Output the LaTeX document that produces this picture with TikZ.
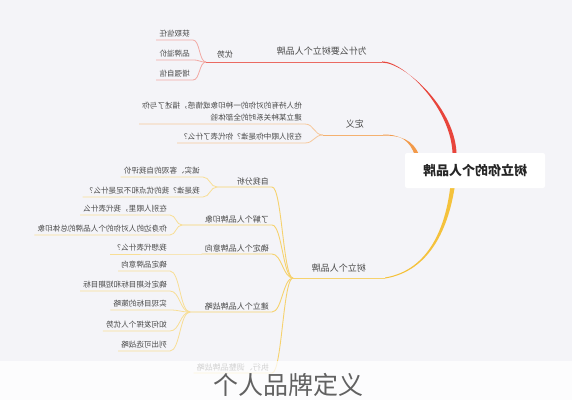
\documentclass[tikz,border=0pt]{standalone}
\usepackage{fontspec}
\usepackage{graphicx}
\setmainfont{Noto Sans CJK SC}
\newcommand{\mirtxt}[1]{\reflectbox{#1}}
\definecolor{bgc}{HTML}{F4F4F8}
\definecolor{txtc}{HTML}{4A4A4A}
\definecolor{redmain}{HTML}{E8453C}
\definecolor{redmid}{HTML}{EA6A62}
\definecolor{redleaf}{HTML}{F2A9A4}
\definecolor{orgmain}{HTML}{F29A4A}
\definecolor{orgmid}{HTML}{F4B170}
\definecolor{orgleaf}{HTML}{F6C79A}
\definecolor{ylwmain}{HTML}{F4C23C}
\definecolor{ylwmid}{HTML}{F6D26E}
\definecolor{ylwleaf}{HTML}{F8DE95}
\begin{document}
\begin{tikzpicture}[x=1pt,y=-1pt,
  lvone/.style={font=\fontsize{9}{11}\selectfont, text=txtc, anchor=south east, inner xsep=2pt, inner ysep=7pt},
  lvtwo/.style={font=\fontsize{8}{10}\selectfont, text=txtc, anchor=south east, inner xsep=3pt, inner ysep=2pt},
  leaf/.style={font=\fontsize{7.6}{9.5}\selectfont, text=txtc, anchor=south east, inner xsep=3pt, inner ysep=2.2pt},
  forkto/.style={to path={.. controls ([xshift=-#1]\tikztostart) and ([xshift=#1]\tikztotarget) .. (\tikztotarget)}},
  rl/.style={draw=redleaf, line width=0.8pt},
  ol/.style={draw=orgleaf, line width=0.8pt},
  yl/.style={draw=ylwleaf, line width=0.8pt},
  ym/.style={draw=ylwmid, line width=0.9pt},
  centerbox/.style={fill=white, rounded corners=2pt, minimum width=140pt, minimum height=35pt, inner sep=0pt,
    font=\fontsize{13}{15}\selectfont\bfseries, text=black!85}
]
\fill[bgc] (0,0) rectangle (572,400);
\useasboundingbox (0,0) rectangle (572,400);

% ---------- main tapered branches ----------
\fill[redmain] (382,61.4) .. controls (405,61.4) and (452.6,110) .. (452.6,156) -- (456.6,156) .. controls (456.6,109) and (405,62.6) .. (382,62.6) -- cycle;
\fill[orgmain] (383,134.5) .. controls (400,134.5) and (410,140) .. (415,156) -- (419.5,156) .. controls (413,139) and (400,135.5) .. (383,135.5) -- cycle;
\fill[ylwmain] (385,277.5) .. controls (430,270) and (446,225) .. (450.5,185) -- (455,185) .. controls (449,226) and (431,271) .. (385,278.5) -- cycle;

% ---------- centre ----------
\node[centerbox] (c) at (475,170.5) {\mirtxt{树立你的个人品牌}};

% ---------- red branch ----------
\coordinate (rbend) at (382,62);
\coordinate (rfork) at (206,62);
\node[lvone] (r0) at (369,62) {\mirtxt{为什么要树立个人品牌}};
\node[lvtwo, inner ysep=4pt] (r1) at (236,62) {\mirtxt{优势}};
\node[leaf] (r11) at (193,40) {\mirtxt{获取信任}};
\node[leaf] (r12) at (193,60) {\mirtxt{品牌溢价}};
\node[leaf] (r13) at (193,80) {\mirtxt{增强自信}};
\draw[redmid, line width=1pt] (rfork) -- (rbend);
\foreach \n in {r11,r12,r13} \draw[rl] (rfork) to[forkto=7pt] (\n.south east) -- (\n.south west);

% ---------- orange branch ----------
\coordinate (obend) at (383,135);
\coordinate (ofork) at (323,135);
\node[lvone] (o0) at (366,135) {\mirtxt{定义}};
\node[leaf] (o1) at (305,124) {\mirtxt{\vbox{\baselineskip=12pt\hbox{他人持有的对你的一种印象或情感，描述了与你}\hbox{建立某种关系时的全部体验}}}};
\node[leaf] (o2) at (305,143) {\mirtxt{在别人眼中你是谁？你代表了什么？}};
\draw[orgmid, line width=1pt] (ofork) -- (obend);
\foreach \n in {o1,o2} \draw[ol] (ofork) to[forkto=9pt] (\n.south east) -- (\n.south west);

% ---------- yellow branch ----------
\coordinate (ybend) at (385,278);
\coordinate (yfork) at (293,278);
\node[lvone, inner ysep=5.5pt] (y0) at (368,278) {\mirtxt{树立个人品牌}};
\draw[ylwmid, line width=1pt] (yfork) -- (ybend);

\node[lvtwo] (y1) at (272,187) {\mirtxt{自我分析}};
\node[lvtwo] (y2) at (272,225) {\mirtxt{了解个人品牌印象}};
\node[lvtwo] (y3) at (272,254) {\mirtxt{确定个人品牌意向}};
\node[lvtwo] (y4) at (272,312) {\mirtxt{建立个人品牌战略}};
\node[lvtwo] (y5) at (272,373) {\mirtxt{执行、调整品牌战略}};
\coordinate (yf1) at (217,187);
\coordinate (yf2) at (182,225);
\coordinate (yf4) at (190,312);
\draw[ym] (yfork) to[forkto=10pt] (y1.south east) -- (yf1);
\draw[ym] (yfork) to[forkto=10pt] (y2.south east) -- (yf2);
\draw[ym] (yfork) to[forkto=10pt] (y3.south east) -- (y3.south west);
\draw[ym] (yfork) to[forkto=10pt] (y4.south east) -- (yf4);
\draw[ym] (yfork) to[forkto=10pt] (y5.south east) -- (y5.south west);

\node[leaf] (y11) at (203,177) {\mirtxt{诚实、客观的自我评价}};
\node[leaf] (y12) at (203,197) {\mirtxt{我是谁？我的优点和不足是什么？}};
\foreach \n in {y11,y12} \draw[yl] (yf1) to[forkto=7pt] (\n.south east) -- (\n.south west);

\node[leaf] (y21) at (170,215) {\mirtxt{在别人眼里，我代表什么}};
\node[leaf] (y22) at (170,235) {\mirtxt{你身边的人对你的个人品牌的总体印象}};
\foreach \n in {y21,y22} \draw[yl] (yf2) to[forkto=6pt] (\n.south east) -- (\n.south west);

\node[leaf] (y31) at (170,254) {\mirtxt{我想代表什么？}};
\draw[yl] (y3.south west) -- (y31.south east) -- (y31.south west);

\node[leaf] (y41) at (170,271) {\mirtxt{确定品牌意向}};
\node[leaf] (y42) at (170,291) {\mirtxt{确定长期目标和短期目标}};
\node[leaf] (y43) at (170,310) {\mirtxt{实现目标的策略}};
\node[leaf] (y44) at (170,331) {\mirtxt{如何发挥个人优势}};
\node[leaf] (y45) at (170,351) {\mirtxt{列出可选战略}};
\foreach \n in {y41,y42,y43,y44,y45} \draw[yl] (yf4) to[forkto=10pt] (\n.south east) -- (\n.south west);

% ---------- caption band ----------
\fill[white, opacity=0.75] (0,361) rectangle (572,400);
\node[font=\fontsize{25}{28}\selectfont, text=black!62, inner sep=0pt] (cap) at (288,385) {个人品牌定义};
\end{tikzpicture}
\end{document}
